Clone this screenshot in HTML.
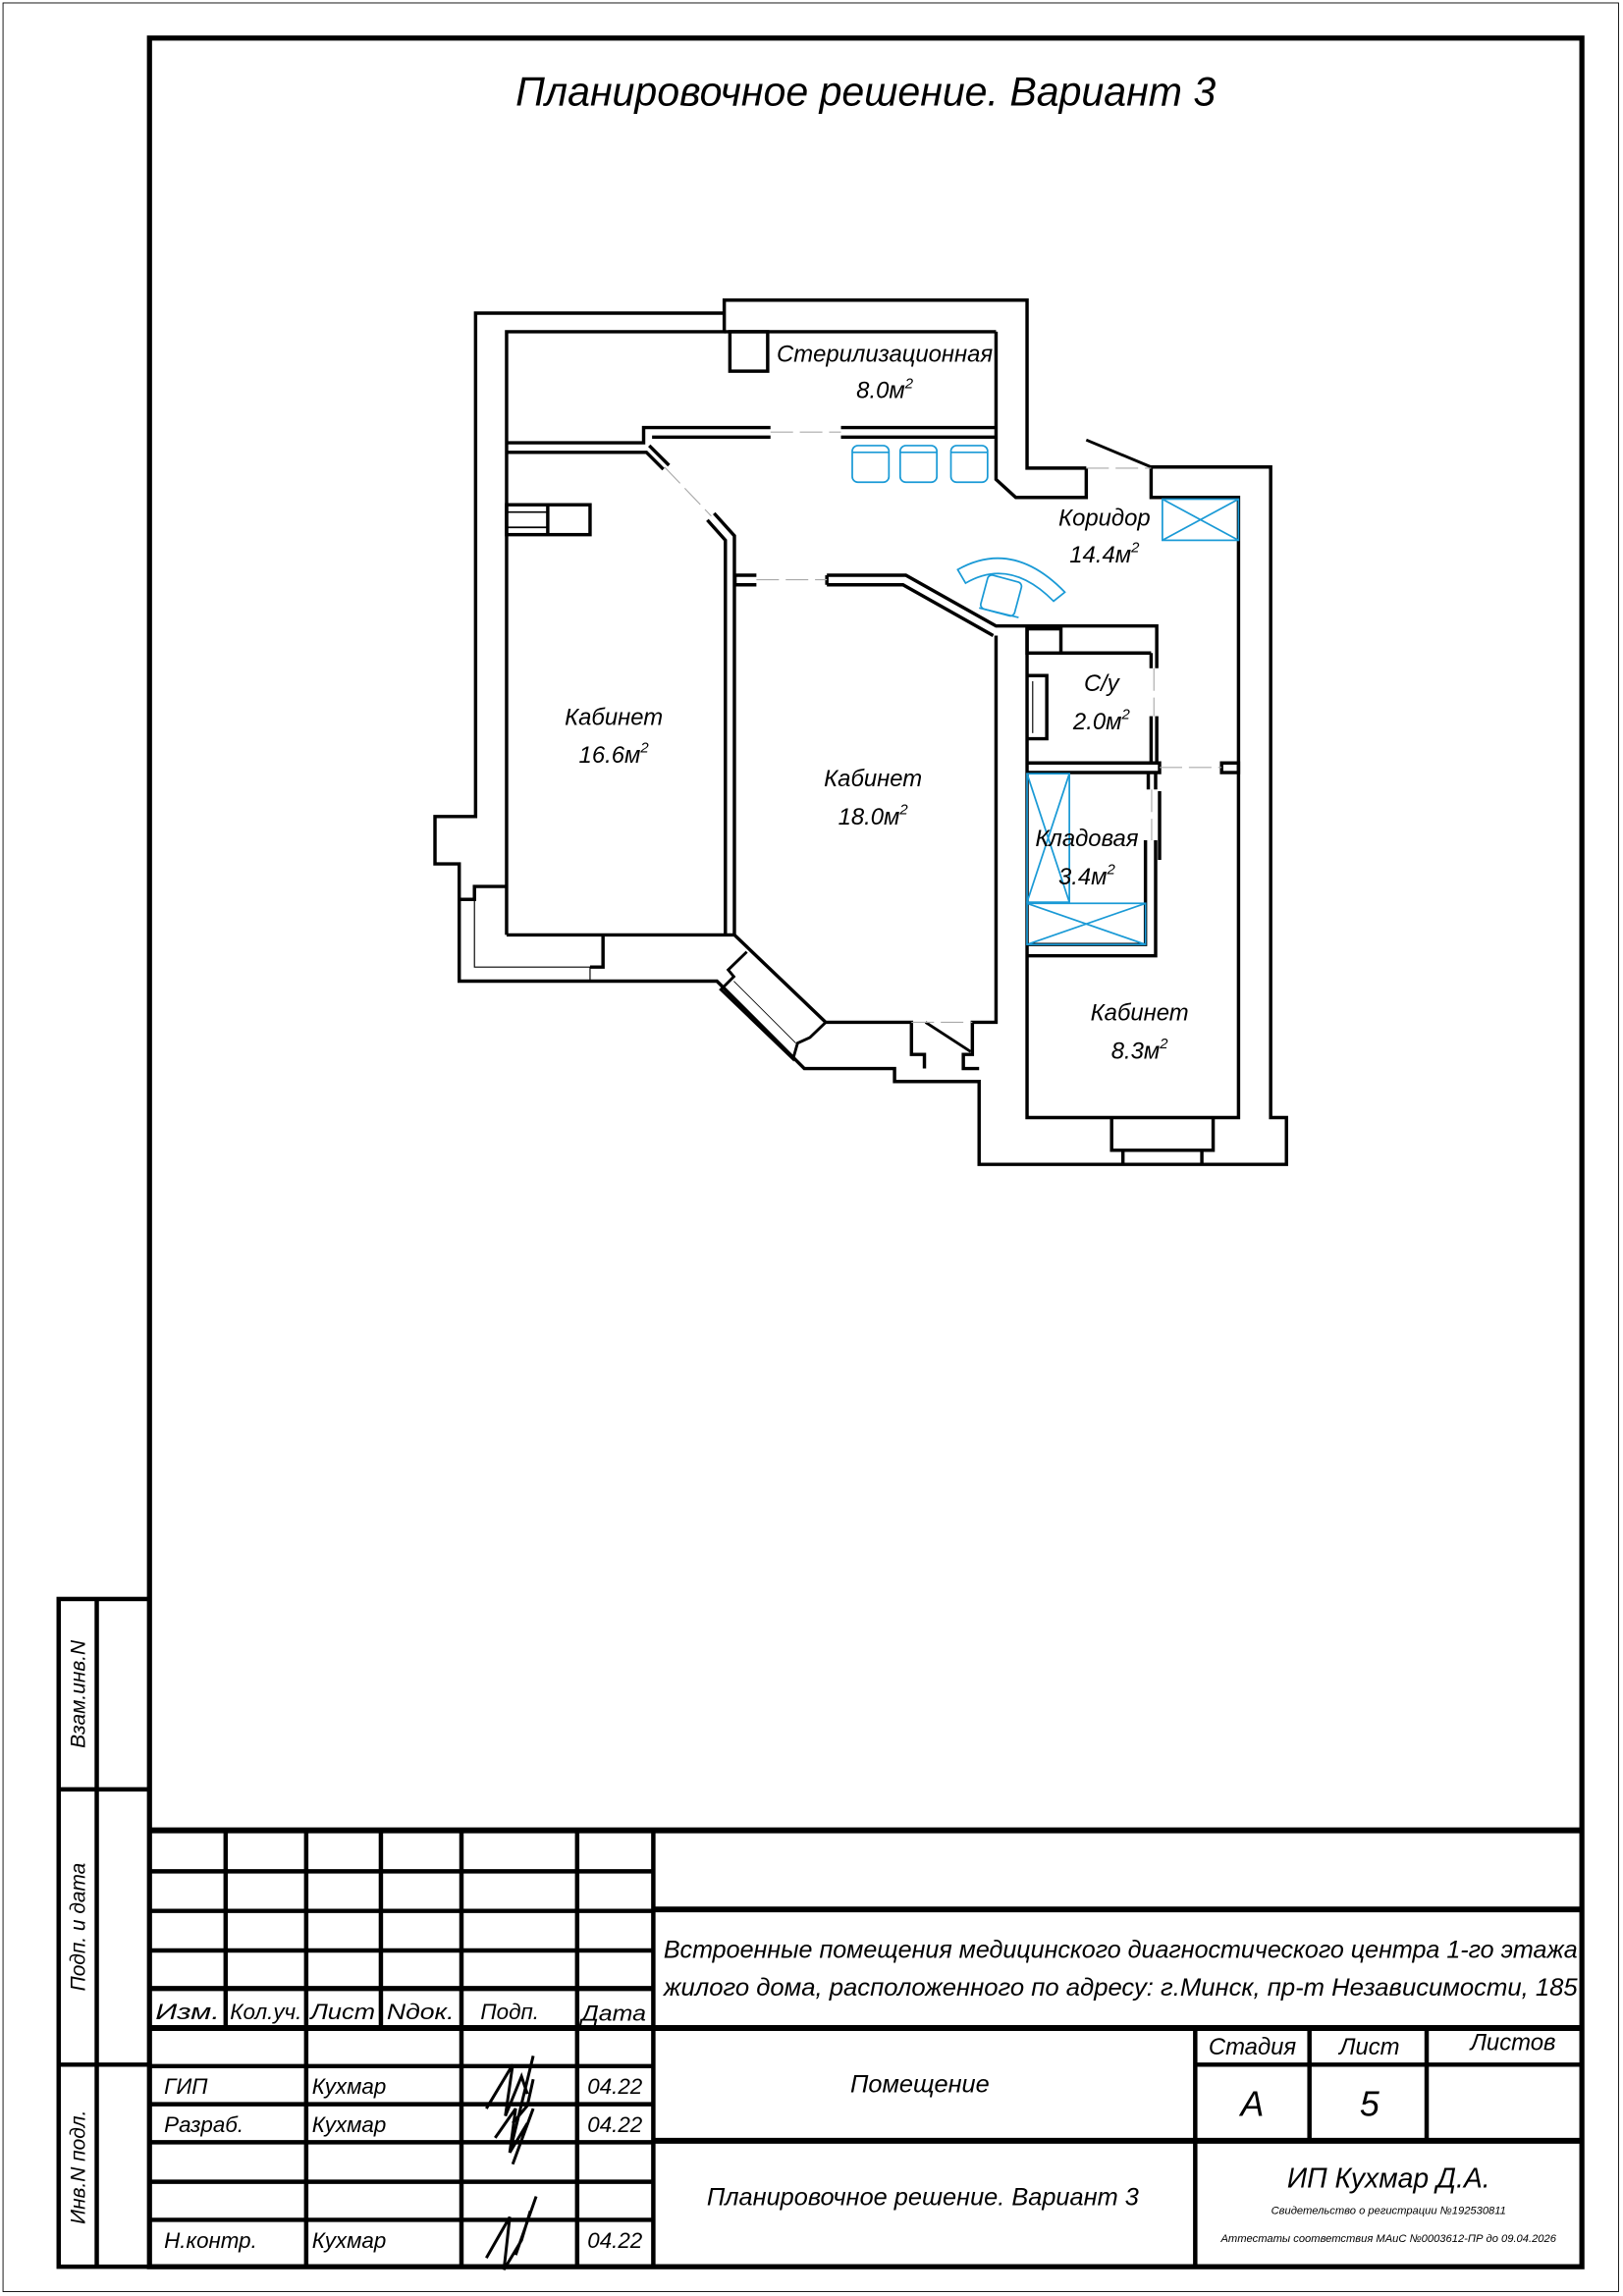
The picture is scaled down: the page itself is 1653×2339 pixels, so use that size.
<!DOCTYPE html>
<html><head><meta charset="utf-8"><style>
html,body{margin:0;padding:0;background:#fff}
svg{display:block}
text{font-family:"Liberation Sans","DejaVu Sans",sans-serif;font-style:italic;fill:#000}
</style></head><body>
<svg width="1653" height="2339" viewBox="0 0 1108 1568" xmlns="http://www.w3.org/2000/svg">
<rect x="0" y="0" width="1108" height="1568" fill="#fff"/>
<rect x="2" y="2" width="1103" height="1563" fill="none" stroke="#000" stroke-width="0.6"/>
<rect x="102" y="26" width="978" height="1522" fill="none" stroke="#000" stroke-width="3.5"/>
<g stroke="#000" stroke-width="3" fill="none">
<rect x="40" y="1092" width="62" height="456"/>
<line x1="66" y1="1092" x2="66" y2="1548"/>
<line x1="40" y1="1222" x2="102" y2="1222"/>
<line x1="40" y1="1410" x2="102" y2="1410"/>
</g>
<text transform="translate(58,1157) rotate(-90)" font-size="14" text-anchor="middle">Взам.инв.N</text>
<text transform="translate(58,1316) rotate(-90)" font-size="14" text-anchor="middle">Подп. и дата</text>
<text transform="translate(58,1480) rotate(-90)" font-size="14" text-anchor="middle">Инв.N подл.</text>

<g stroke="#000" stroke-width="3" fill="none">
<line x1="102" y1="1250" x2="1080" y2="1250" stroke-width="4"/>
<line x1="154" y1="1250" x2="154" y2="1385"/>
<line x1="209" y1="1250" x2="209" y2="1548"/>
<line x1="260" y1="1250" x2="260" y2="1385"/>
<line x1="315" y1="1250" x2="315" y2="1548"/>
<line x1="394" y1="1250" x2="394" y2="1548"/>
<line x1="446" y1="1250" x2="446" y2="1548"/>
<line x1="102" y1="1278" x2="446" y2="1278"/>
<line x1="102" y1="1305" x2="446" y2="1305"/>
<line x1="102" y1="1332" x2="446" y2="1332"/>
<line x1="102" y1="1358" x2="446" y2="1358" stroke-width="3.5"/>
<line x1="102" y1="1385" x2="1080" y2="1385" stroke-width="4"/>
<line x1="102" y1="1411" x2="446" y2="1411"/>
<line x1="102" y1="1437" x2="446" y2="1437"/>
<line x1="102" y1="1463" x2="446" y2="1463"/>
<line x1="102" y1="1490" x2="446" y2="1490"/>
<line x1="102" y1="1516" x2="446" y2="1516"/>
<line x1="446" y1="1304" x2="1080" y2="1304" stroke-width="4"/>
<line x1="446" y1="1462" x2="1080" y2="1462" stroke-width="4"/>
<line x1="816" y1="1385" x2="816" y2="1548"/>
<line x1="894" y1="1385" x2="894" y2="1462"/>
<line x1="974" y1="1385" x2="974" y2="1462"/>
<line x1="816" y1="1410" x2="1080" y2="1410"/>
</g>
<g font-size="15">
<text x="106" y="1379" textLength="44" lengthAdjust="spacingAndGlyphs">Изм.</text>
<text x="157" y="1379" textLength="49" lengthAdjust="spacingAndGlyphs">Кол.уч.</text>
<text x="212" y="1379" textLength="44" lengthAdjust="spacingAndGlyphs">Лист</text>
<text x="264" y="1379" textLength="46" lengthAdjust="spacingAndGlyphs">Nдок.</text>
<text x="328" y="1379" textLength="40" lengthAdjust="spacingAndGlyphs">Подп.</text>
<text x="397" y="1380" textLength="44" lengthAdjust="spacingAndGlyphs">Дата</text>
<text x="112" y="1430">ГИП</text>
<text x="112" y="1456">Разраб.</text>
<text x="112" y="1535">Н.контр.</text>
<text x="213" y="1430">Кухмар</text>
<text x="213" y="1456">Кухмар</text>
<text x="213" y="1535">Кухмар</text>
<text x="401" y="1430">04.22</text>
<text x="401" y="1456">04.22</text>
<text x="401" y="1535">04.22</text>
</g>
<g stroke="#000" stroke-width="2" fill="none">
<path d="M332,1440 L350,1410 L345,1445 L356,1418 L360,1430 M364,1404 L348,1470 M350,1450 L360,1438 L364,1420"/>
<path d="M338,1460 L352,1440 L348,1470 L360,1450 M364,1440 L350,1478"/>
<path d="M332,1542 L348,1514 L344,1550 L356,1530 L362,1510 M366,1500 L352,1540"/>
</g>
<text x="453" y="1337" font-size="17" textLength="624" lengthAdjust="spacingAndGlyphs">Встроенные помещения медицинского диагностического центра  1-го этажа</text>
<text x="453" y="1363" font-size="17" textLength="624" lengthAdjust="spacingAndGlyphs">жилого дома, расположенного по адресу: г.Минск, пр-т Независимости, 185</text>
<text x="628" y="1429" font-size="17" text-anchor="middle">Помещение</text>
<text x="855" y="1403" font-size="16" text-anchor="middle">Стадия</text>
<text x="935" y="1403" font-size="16" text-anchor="middle">Лист</text>
<text x="1033" y="1400" font-size="16" text-anchor="middle">Листов</text>
<text x="855" y="1445" font-size="24" text-anchor="middle">А</text>
<text x="935" y="1445" font-size="24" text-anchor="middle">5</text>
<text x="630" y="1506" font-size="17" text-anchor="middle">Планировочное решение. Вариант 3</text>
<text x="948" y="1494" font-size="19" text-anchor="middle">ИП Кухмар Д.А.</text>
<text x="948" y="1512" font-size="7.5" text-anchor="middle">Свидетельство о регистрации №192530811</text>
<text x="948" y="1531" font-size="7.5" text-anchor="middle">Аттестаты соответствия МАиС №0003612-ПР до 09.04.2026</text>

<text x="591" y="72" font-size="28" text-anchor="middle" textLength="478" lengthAdjust="spacingAndGlyphs">Планировочное решение. Вариант 3</text>

<g transform="translate(287.3,196.5) scale(0.385)" fill="none" stroke="#000" stroke-width="6" stroke-linejoin="miter">
<polyline points="538,45 538,22 1075,22 1075,320 1180,320"/>
<polyline points="538,45 97,45 97,938 25,938 25,1022 68,1022 68,1230 525,1230 680,1385 840,1385 840,1408 990,1408 990,1555 1535,1555 1535,1472 1507,1472 1507,318 1295,318 1295,372 1450,372 1450,1472 1075,1472 1075,600"/>
<polyline points="152,1148 152,78 538,78 538,45"/>
<line x1="538" y1="78" x2="1020" y2="78"/>
<polyline points="1020,78 1020,340 1055,372 1180,372 1180,320"/>
<rect x="548" y="78" width="67" height="70"/>
<polyline points="152,275 395,275 395,248 620,248"/>
<polyline points="152,292 400,292 430,322"/>
<polyline points="410,265 620,265"/>
<line x1="745" y1="248" x2="1020" y2="248"/>
<line x1="745" y1="265" x2="1020" y2="265"/>
<polyline points="405,280 440,315"/>
<polyline points="520,400 556,440 556,1148"/>
<polyline points="508,412 540,448 540,1148"/>
<rect x="152" y="385" width="148" height="53"/>
<line x1="225" y1="385" x2="225" y2="438"/>
<line x1="152" y1="398" x2="225" y2="398" stroke-width="3"/>
<line x1="152" y1="425" x2="225" y2="425" stroke-width="3"/>
<polyline points="152,1148 556,1148 718,1303 870,1303 870,1360 893,1360 893,1385"/>
<polyline points="68,1085 95,1085 95,1062 152,1062"/>
<polyline points="95,1085 95,1205 300,1205 300,1230" stroke-width="2"/>
<polyline points="300,1205 323,1205 323,1148"/>
<polyline points="578,1178 545,1210 555,1222 532,1245 660,1368 668,1340 690,1330 718,1303" stroke-width="5"/>
<line x1="555" y1="1230" x2="665" y2="1340" stroke-width="1.5"/>
<polyline points="595,510 557,510 557,527 595,527"/>
<polyline points="720,510 860,510 1020,600 1305,600 1305,675"/>
<polyline points="720,527 855,527 1015,617"/>
<line x1="720" y1="510" x2="720" y2="527"/>
<polyline points="1020,617 1020,1303 978,1303 978,1360 962,1360 962,1385 990,1385"/>
<rect x="1075" y="605" width="60" height="43"/>
<line x1="1135" y1="648" x2="1295" y2="648"/>
<polyline points="1295,648 1295,675"/>
<polyline points="1295,760 1295,843"/>
<polyline points="1305,760 1305,843"/>
<polyline points="1075,688 1110,688 1110,800 1075,800"/>
<line x1="1085" y1="698" x2="1085" y2="790" stroke-width="2"/>
<polyline points="1075,843 1310,843 1310,860 1075,860"/>
<rect x="1420" y="843" width="30" height="17"/>
<polyline points="1290,860 1290,890"/>
<polyline points="1303,860 1303,890"/>
<polyline points="1285,980 1285,1165 1075,1165"/>
<polyline points="1303,980 1303,1185 1075,1185"/>
<line x1="1310" y1="893" x2="1310" y2="1015"/>
<line x1="1180" y1="270" x2="1295" y2="318" stroke-width="5"/>
<line x1="895" y1="1303" x2="975" y2="1355" stroke-width="5"/>
<polyline points="1225,1472 1225,1530 1405,1530 1405,1472"/>
<line x1="1245" y1="1530" x2="1245" y2="1555"/>
<line x1="1385" y1="1530" x2="1385" y2="1555"/>
<g stroke="#aaa" stroke-width="2" stroke-dasharray="40,12">
<line x1="620" y1="256" x2="745" y2="256"/>
<line x1="595" y1="518" x2="720" y2="518"/>
<line x1="432" y1="318" x2="515" y2="405"/>
<line x1="1180" y1="320" x2="1295" y2="320"/>
<line x1="1300" y1="675" x2="1300" y2="760"/>
<line x1="1310" y1="851" x2="1420" y2="851"/>
<line x1="1296" y1="890" x2="1296" y2="980"/>
<line x1="870" y1="1303" x2="978" y2="1303"/>
</g>
<g stroke="#1a9ad6" stroke-width="3">
<rect x="1315" y="375" width="135" height="73"/>
<line x1="1315" y1="375" x2="1450" y2="448"/>
<line x1="1315" y1="448" x2="1450" y2="375"/>
<rect x="1075" y="862" width="75" height="228"/>
<line x1="1075" y1="862" x2="1150" y2="1090"/>
<line x1="1150" y1="862" x2="1075" y2="1090"/>
<rect x="1075" y="1092" width="210" height="73"/>
<line x1="1075" y1="1092" x2="1285" y2="1165"/>
<line x1="1075" y1="1165" x2="1285" y2="1092"/>
<rect x="765" y="280" width="65" height="65" rx="10"/>
<rect x="850" y="280" width="65" height="65" rx="10"/>
<rect x="940" y="280" width="65" height="65" rx="10"/>
<line x1="765" y1="292" x2="830" y2="292"/>
<line x1="850" y1="292" x2="915" y2="292"/>
<line x1="940" y1="292" x2="1005" y2="292"/>
<path d="M952,500 Q1050,445 1142,540 L1122,556 Q1045,478 966,524 Z"/>
<rect x="998" y="515" width="62" height="62" rx="8" transform="rotate(15 1029 546)"/>
<line x1="990" y1="568" x2="1060" y2="585"/>
</g>
</g>
<g font-size="16" text-anchor="middle">
<text x="604" y="247">Стерилизационная</text>
<text x="604" y="272">8.0м<tspan font-size="10" dy="-7">2</tspan></text>
<text x="754" y="359">Коридор</text>
<text x="754" y="384">14.4м<tspan font-size="10" dy="-7">2</tspan></text>
<text x="419" y="495">Кабинет</text>
<text x="419" y="521">16.6м<tspan font-size="10" dy="-7">2</tspan></text>
<text x="596" y="537">Кабинет</text>
<text x="596" y="563">18.0м<tspan font-size="10" dy="-7">2</tspan></text>
<text x="752" y="472">С/у</text>
<text x="752" y="498">2.0м<tspan font-size="10" dy="-7">2</tspan></text>
<text x="742" y="578">Кладовая</text>
<text x="742" y="604">3.4м<tspan font-size="10" dy="-7">2</tspan></text>
<text x="778" y="697">Кабинет</text>
<text x="778" y="723">8.3м<tspan font-size="10" dy="-7">2</tspan></text>
</g>
</svg>
</body></html>
